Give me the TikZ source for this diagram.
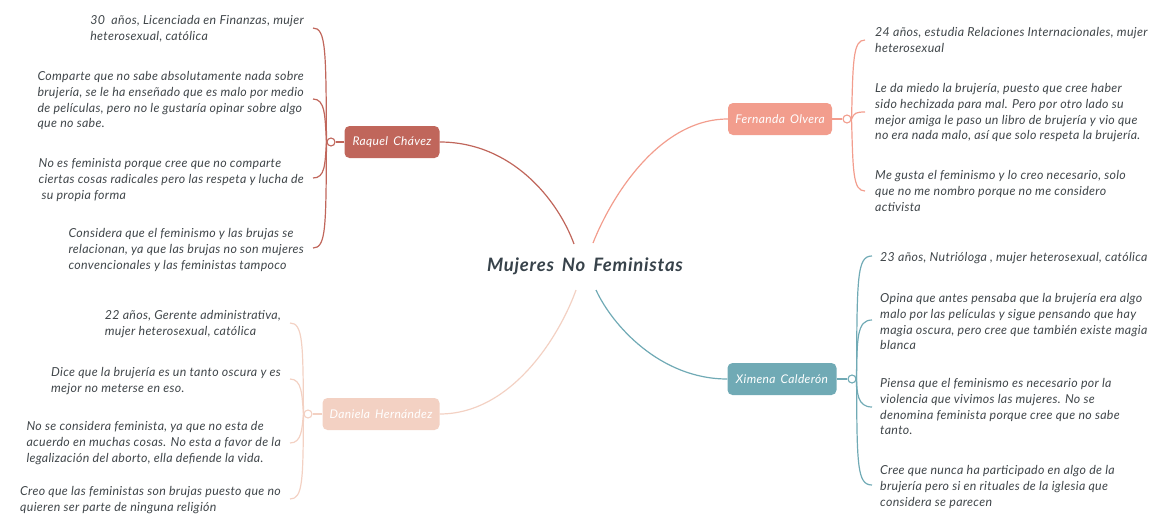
\documentclass[tikz,border=0pt]{standalone}
\usepackage{fontspec}
\setmainfont{Lato}
\definecolor{txt}{HTML}{40464A}
\definecolor{ttl}{HTML}{37424A}
\definecolor{cR}{HTML}{C0665B}
\definecolor{cF}{HTML}{F29D8D}
\definecolor{cD}{HTML}{F3D1C3}
\definecolor{cX}{HTML}{70AAB5}
\tikzset{
  note/.style={font=\itshape\fontsize{12.4}{15.7}\selectfont\addfontfeatures{LetterSpace=2.5}, text=txt, inner sep=0pt, align=left},
  person/.style={rounded corners=5pt, minimum height=32pt, text=white, inner sep=0pt,
    font=\itshape\fontsize{12}{13}\selectfont\addfontfeatures{LetterSpace=3}},
  dot/.style={circle, draw, fill=white, minimum size=8pt, inner sep=0pt, line width=1.1pt},
  link/.style={line width=1.2pt},
}
\begin{document}
\begin{tikzpicture}[x=1pt,y=-1pt]
\useasboundingbox (0,0) rectangle (1152,517);
\clip (0,0) rectangle (1152,517);
% title
\node[font=\bfseries\itshape\fontsize{18.5}{20}\selectfont\addfontfeatures{LetterSpace=4}, text=ttl, inner sep=0pt] (title) at (585,266) {Mujeres\, No\, Feministas};
\coordinate (tR) at (574,244);
\coordinate (tF) at (593,243);
\coordinate (tD) at (576,290);
\coordinate (tX) at (596,290);

% person boxes
\node[person, fill=cR, minimum width=95pt] (raquel) at (392,142) {Raquel\, Chávez};
\node[person, fill=cF, minimum width=104pt] (fernanda) at (780,119) {Fernanda\, Olvera};
\node[person, fill=cD, minimum width=117pt] (daniela) at (381,414) {Daniela\, Hernández};
\node[person, fill=cX, minimum width=109pt] (ximena) at (782,379) {Ximena\, Calderón};

% main connectors
\draw[link, cR] (raquel.east) .. controls (512,142) and (558,200) .. (tR);
\draw[link, cF] (fernanda.west) .. controls (660,119) and (612,195) .. (tF);
\draw[link, cD] (daniela.east) .. controls (512,414) and (560,335) .. (tD);
\draw[link, cX] (ximena.west) .. controls (660,379) and (612,325) .. (tX);

% dots
\node[dot, draw=cR] (rdot) at (331,142) {};
\node[dot, draw=cF] (fdot) at (847,119) {};
\node[dot, draw=cD] (ddot) at (308,414) {};
\node[dot, draw=cX] (xdot) at (852,379) {};
\draw[link, cR] (raquel.west) -- (rdot.east);
\draw[link, cF] (fernanda.east) -- (fdot.west);
\draw[link, cD] (daniela.west) -- (ddot.east);
\draw[link, cX] (ximena.east) -- (xdot.west);

% Raquel notes
\node[note, anchor=north east] (r1) at (304,15.5) {30\ \ años, Licenciada en Finanzas, mujer\\heterosexual, católica};
\node[note, anchor=north east] (r2) at (304,71.5) {Comparte que no sabe absolutamente nada sobre\\brujería, se le ha enseñado que es malo por medio\\de películas, pero no le gustaría opinar sobre algo\\que no sabe.};
\node[note, anchor=north east] (r3) at (304,158.5) {No es feminista porque cree que no comparte\\ciertas cosas radicales pero las respeta y lucha de\\\hspace{3pt}su propia forma};
\node[note, anchor=north east] (r4) at (304,228.5) {Considera que el feminismo y las brujas se\\relacionan, ya que las brujas no son mujeres\\convencionales y las feministas tampoco};
\coordinate (r1e) at (313,28);
\coordinate (r2e) at (313,99);
\coordinate (r3e) at (313,178);
\coordinate (r4e) at (313,248);
\draw[link, cR] (rdot.west) .. controls (326,50) and (326,28) .. (r1e);
\draw[link, cR] (rdot.west) .. controls (325,115) and (325,99) .. (r2e);
\draw[link, cR] (rdot.west) .. controls (325,165) and (325,178) .. (r3e);
\draw[link, cR] (rdot.west) .. controls (326,228) and (326,248) .. (r4e);

% Fernanda notes
\node[note, anchor=north west] (f1) at (875,27.5) {24 años, estudia Relaciones Internacionales, mujer\\heterosexual};
\node[note, anchor=north west] (f2) at (875,83.5) {Le da miedo la brujería, puesto que cree haber\\sido hechizada para mal. Pero por otro lado su\\mejor amiga le paso un libro de brujería y vio que\\no era nada malo, así que solo respeta la brujería.};
\node[note, anchor=north west] (f3) at (875,170.5) {Me gusta el feminismo y lo creo necesario, solo\\que no me nombro porque no me considero\\activista};
\coordinate (f1e) at (865,40);
\coordinate (f2e) at (865,112);
\coordinate (f3e) at (865,191);
\draw[link, cF] (fdot.east) .. controls (853,60) and (853,40) .. (f1e);
\draw[link, cF] (fdot.east) .. controls (854,113) and (856,112) .. (f2e);
\draw[link, cF] (fdot.east) .. controls (853,172) and (853,191) .. (f3e);

% Daniela notes
\node[note, anchor=north east] (d1) at (281,310.5) {22 años, Gerente administrativa,\\mujer heterosexual, católica};
\node[note, anchor=north east] (d2) at (281,367.5) {Dice que la brujería es un tanto oscura y es\\mejor no meterse en eso.};
\node[note, anchor=north east] (d3) at (281,421.5) {No se considera feminista, ya que no esta de\\acuerdo en muchas cosas. No esta a favor de la\\legalización del aborto, ella defiende la vida.};
\node[note, anchor=north east] (d4) at (281,486.5) {Creo que las feministas son brujas puesto que no\\quieren ser parte de ninguna religión};
\coordinate (d1e) at (290,323);
\coordinate (d2e) at (290,379);
\coordinate (d3e) at (290,443);
\coordinate (d4e) at (290,499);
\draw[link, cD] (ddot.west) .. controls (303,343) and (303,323) .. (d1e);
\draw[link, cD] (ddot.west) .. controls (302,395) and (302,379) .. (d2e);
\draw[link, cD] (ddot.west) .. controls (302,428) and (302,443) .. (d3e);
\draw[link, cD] (ddot.west) .. controls (303,480) and (303,499) .. (d4e);

% Ximena notes
\node[note, anchor=north west] (x1) at (880,252.5) {23 años, Nutrióloga , mujer heterosexual, católica};
\node[note, anchor=north west] (x2) at (880,293.5) {Opina que antes pensaba que la brujería era algo\\malo por las películas y sigue pensando que hay\\magia oscura, pero cree que también existe magia\\blanca};
\node[note, anchor=north west] (x3) at (880,378.5) {Piensa que el feminismo es necesario por la\\violencia que vivimos las mujeres. No se\\denomina feminista porque cree que no sabe\\tanto.};
\node[note, anchor=north west] (x4) at (880,465.5) {Cree que nunca ha participado en algo de la\\brujería pero si en rituales de la iglesia que\\considera se parecen};
\coordinate (x1e) at (872,256);
\coordinate (x2e) at (872,320);
\coordinate (x3e) at (872,407);
\coordinate (x4e) at (872,485);
\draw[link, cX] (xdot.east) .. controls (857,276) and (857,256) .. (x1e);
\draw[link, cX] (xdot.east) .. controls (857,338) and (857,320) .. (x2e);
\draw[link, cX] (xdot.east) .. controls (857,392) and (857,407) .. (x3e);
\draw[link, cX] (xdot.east) .. controls (857,465) and (857,485) .. (x4e);
\end{tikzpicture}
\end{document}
